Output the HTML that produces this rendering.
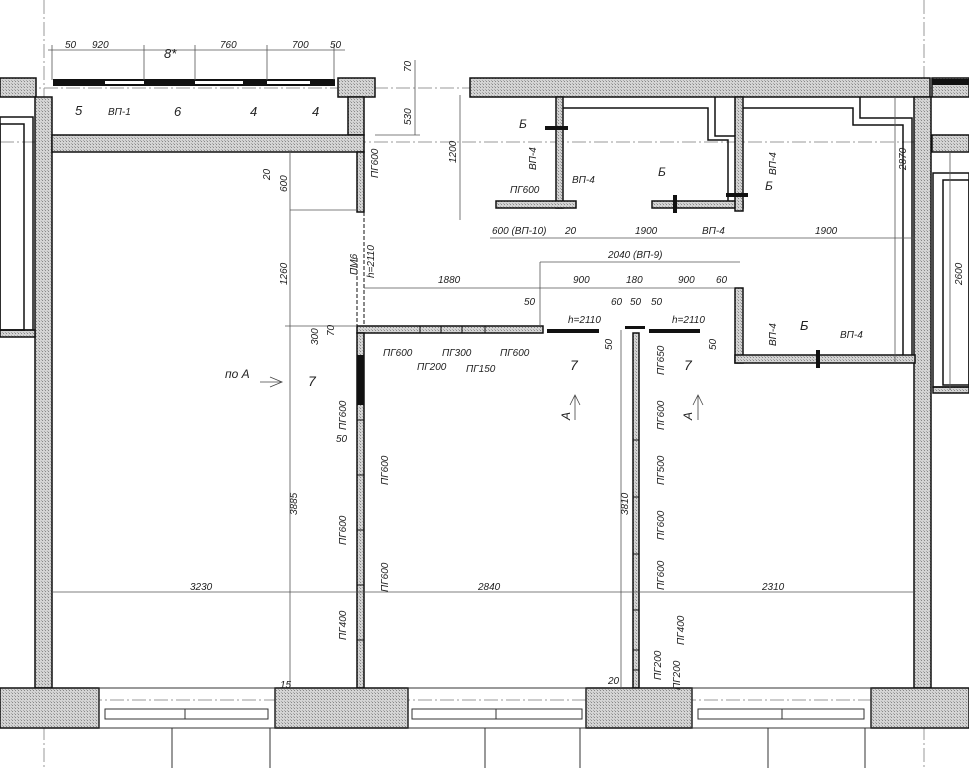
<!DOCTYPE html>
<html><head><meta charset="utf-8"><style>
html,body{margin:0;padding:0;background:#fff;}
svg{display:block;}
text{font-family:"Liberation Sans",sans-serif;font-style:italic;font-size:10px;fill:#222;}
</style></head><body>
<svg width="969" height="768" viewBox="0 0 969 768" xmlns="http://www.w3.org/2000/svg">
<defs>
<pattern id="h" width="3" height="3" patternUnits="userSpaceOnUse">
<rect width="3" height="3" fill="#d4d4d4"/><rect width="1" height="1" fill="#888"/><rect x="2" y="2" width="1" height="1" fill="#aaa"/>
</pattern>
</defs>
<!-- axis lines -->
<g stroke="#999" stroke-width="1" stroke-dasharray="14,3,2,3" fill="none">
<line x1="0" y1="88" x2="969" y2="88"/>
<line x1="0" y1="142" x2="969" y2="142"/>
<line x1="44" y1="0" x2="44" y2="768"/>
<line x1="924" y1="0" x2="924" y2="768"/>
<line x1="0" y1="700" x2="969" y2="700"/>
</g>
<!-- walls hatched -->
<g fill="url(#h)" stroke="#111" stroke-width="1.5">
<rect x="0" y="78" width="36" height="19"/>
<rect x="35" y="97" width="17" height="591"/>
<rect x="338" y="78" width="37" height="19"/>
<rect x="348" y="97" width="16" height="38"/>
<rect x="52" y="135" width="312" height="17"/>
<rect x="470" y="78" width="460" height="19"/>
<rect x="914" y="97" width="17" height="591"/>
<rect x="932" y="78" width="37" height="19"/>
<rect x="932" y="135" width="37" height="17"/>
<rect x="0" y="330" width="35" height="7"/>
<rect x="933" y="387" width="36" height="6"/>
<!-- inner partitions -->
<rect x="556" y="97" width="7" height="111"/>
<rect x="496" y="201" width="80" height="7"/>
<rect x="652" y="201" width="91" height="7"/>
<rect x="735" y="97" width="8" height="114"/>
<rect x="735" y="288" width="8" height="75"/>
<rect x="735" y="355" width="180" height="8"/>
<rect x="357" y="326" width="186" height="7"/>
<rect x="357" y="152" width="7" height="60"/>
<rect x="357" y="333" width="7" height="355"/>
<rect x="633" y="333" width="6" height="355"/>
<!-- bottom pillars -->
<rect x="0" y="688" width="99" height="40"/>
<rect x="275" y="688" width="133" height="40"/>
<rect x="586" y="688" width="106" height="40"/>
<rect x="871" y="688" width="98" height="40"/>
</g>
<!-- partition joints -->
<g stroke="#111" stroke-width="1">
<line x1="357" y1="258" x2="357" y2="326" stroke-dasharray="4,2"/>
<line x1="364" y1="212" x2="364" y2="326" stroke-dasharray="4,2"/>
<line x1="420" y1="326" x2="420" y2="333"/><line x1="441" y1="326" x2="441" y2="333"/><line x1="462" y1="326" x2="462" y2="333"/><line x1="485" y1="326" x2="485" y2="333"/>
<line x1="357" y1="420" x2="364" y2="420"/><line x1="357" y1="475" x2="364" y2="475"/><line x1="357" y1="530" x2="364" y2="530"/><line x1="357" y1="585" x2="364" y2="585"/><line x1="357" y1="640" x2="364" y2="640"/>
<line x1="633" y1="440" x2="639" y2="440"/><line x1="633" y1="497" x2="639" y2="497"/><line x1="633" y1="554" x2="639" y2="554"/><line x1="633" y1="610" x2="639" y2="610"/><line x1="633" y1="650" x2="639" y2="650"/><line x1="633" y1="670" x2="639" y2="670"/>
</g>
<!-- black fills -->
<g fill="#111">
<rect x="53" y="79" width="282" height="7"/>
<rect x="357" y="355" width="7" height="50"/>
<rect x="547" y="329" width="52" height="4"/>
<rect x="649" y="329" width="51" height="4"/>
<rect x="625" y="326" width="20" height="3"/>
<rect x="545" y="126" width="23" height="4"/>
<rect x="726" y="193" width="22" height="4"/>
<rect x="673" y="195" width="4" height="18"/>
<rect x="816" y="350" width="4" height="18"/>
<rect x="932" y="79" width="37" height="6"/>
</g>
<g fill="#fff">
<rect x="105" y="81" width="39" height="3"/><rect x="195" y="81" width="48" height="3"/><rect x="267" y="81" width="43" height="3"/>
</g>
<!-- thin lines -->
<g stroke="#111" stroke-width="1.5" fill="none">
<polyline points="563,108 708,108 708,140 728,140 728,201"/>
<polyline points="715,97 715,136 735,136"/>
<polyline points="743,108 853,108 853,125 903,125 903,355"/>
<polyline points="860,97 860,118 912,118 912,355"/>
<rect x="0" y="117" width="33" height="213"/>
<rect x="0" y="124" width="24" height="206"/>
<rect x="933" y="173" width="36" height="214"/>
<rect x="943" y="180" width="26" height="205"/>
</g>
<!-- bottom windows -->
<g stroke="#333" stroke-width="1" fill="none">
<rect x="99" y="688" width="176" height="40"/><rect x="408" y="688" width="178" height="40"/><rect x="692" y="688" width="179" height="40"/>
<rect x="105" y="709" width="163" height="10"/><rect x="412" y="709" width="170" height="10"/><rect x="698" y="709" width="166" height="10"/>
<line x1="185" y1="709" x2="185" y2="719"/><line x1="496" y1="709" x2="496" y2="719"/><line x1="782" y1="709" x2="782" y2="719"/>
<line x1="172" y1="728" x2="172" y2="768"/><line x1="270" y1="728" x2="270" y2="768"/><line x1="485" y1="728" x2="485" y2="768"/><line x1="580" y1="728" x2="580" y2="768"/><line x1="768" y1="728" x2="768" y2="768"/><line x1="865" y1="728" x2="865" y2="768"/>
</g>
<!-- dimension lines -->
<g stroke="#555" stroke-width="0.8" fill="none">
<line x1="48" y1="50" x2="345" y2="50"/>
<line x1="52" y1="45" x2="52" y2="80"/><line x1="144" y1="45" x2="144" y2="80"/><line x1="195" y1="45" x2="195" y2="80"/><line x1="267" y1="45" x2="267" y2="80"/><line x1="334" y1="45" x2="334" y2="80"/>
<line x1="415" y1="60" x2="415" y2="135"/><line x1="375" y1="135" x2="420" y2="135"/>
<line x1="460" y1="95" x2="460" y2="220"/>
<line x1="290" y1="150" x2="290" y2="688"/><line x1="290" y1="210" x2="357" y2="210"/><line x1="285" y1="326" x2="357" y2="326"/>
<line x1="364" y1="288" x2="735" y2="288"/><line x1="540" y1="262" x2="740" y2="262"/><line x1="540" y1="262" x2="540" y2="326"/>
<line x1="490" y1="238" x2="915" y2="238"/>
<line x1="52" y1="592" x2="914" y2="592"/>
<line x1="621" y1="330" x2="621" y2="688"/>
<line x1="895" y1="97" x2="895" y2="363"/>
<line x1="950" y1="152" x2="950" y2="390"/>
</g>
<!-- arrows -->
<g stroke="#444" stroke-width="0.8" fill="none">
<line x1="260" y1="382" x2="282" y2="382"/><polyline points="270,377 282,382 270,387"/>
<line x1="575" y1="420" x2="575" y2="395"/><polyline points="570,405 575,395 580,405"/>
<line x1="698" y1="420" x2="698" y2="395"/><polyline points="693,405 698,395 703,405"/>
</g>
<!-- labels -->
<text x="65" y="48">50</text><text x="92" y="48">920</text><text x="164" y="58" style="font-size:13px">8*</text><text x="220" y="48">760</text><text x="292" y="48">700</text><text x="330" y="48">50</text>
<text x="75" y="115" style="font-size:13px">5</text><text x="108" y="115">ВП-1</text><text x="174" y="116" style="font-size:13px">6</text><text x="250" y="116" style="font-size:13px">4</text><text x="312" y="116" style="font-size:13px">4</text>
<text x="519" y="128" style="font-size:12px">Б</text><text x="658" y="176" style="font-size:12px">Б</text><text x="765" y="190" style="font-size:12px">Б</text><text x="800" y="330" style="font-size:13px">Б</text>
<text x="510" y="193">ПГ600</text><text x="572" y="183">ВП-4</text><text x="492" y="234">600 (ВП-10)</text><text x="565" y="234">20</text><text x="635" y="234">1900</text><text x="702" y="234">ВП-4</text><text x="815" y="234">1900</text>
<text x="608" y="258">2040 (ВП-9)</text><text x="573" y="283">900</text><text x="626" y="283">180</text><text x="678" y="283">900</text><text x="716" y="283">60</text>
<text x="524" y="305">50</text><text x="611" y="305">60</text><text x="630" y="305">50</text><text x="651" y="305">50</text>
<text x="568" y="323">h=2110</text><text x="672" y="323">h=2110</text>
<text x="570" y="370" style="font-size:14px">7</text><text x="684" y="370" style="font-size:14px">7</text><text x="308" y="386" style="font-size:14px">7</text>
<text x="225" y="378" style="font-size:12px">по А</text>
<text x="840" y="338">ВП-4</text>
<text x="438" y="283">1880</text>
<text x="383" y="356">ПГ600</text><text x="417" y="370">ПГ200</text><text x="442" y="356">ПГ300</text><text x="466" y="372">ПГ150</text><text x="500" y="356">ПГ600</text>
<text x="336" y="442">50</text>
<text x="190" y="590">3230</text><text x="478" y="590">2840</text><text x="762" y="590">2310</text>
<text x="280" y="688">15</text><text x="608" y="684">20</text>
<g transform="rotate(-90)">
<text x="-125" y="411">530</text><text x="-72" y="411">70</text><text x="-163" y="456">1200</text>
<text x="-192" y="287">600</text><text x="-180" y="270">20</text><text x="-285" y="287">1260</text><text x="-515" y="297">3885</text>
<text x="-345" y="318">300</text><text x="-336" y="334">70</text>
<text x="-178" y="378">ПГ600</text><text x="-275" y="357">ПМ6</text><text x="-278" y="374">h=2110</text>
<text x="-430" y="346">ПГ600</text><text x="-485" y="388">ПГ600</text><text x="-545" y="346">ПГ600</text><text x="-592" y="388">ПГ600</text><text x="-640" y="346">ПГ400</text>
<text x="-375" y="664">ПГ650</text><text x="-430" y="664">ПГ600</text><text x="-485" y="664">ПГ500</text><text x="-540" y="664">ПГ600</text><text x="-590" y="664">ПГ600</text><text x="-645" y="684">ПГ400</text>
<text x="-680" y="661">ПГ200</text><text x="-690" y="680">ПГ200</text>
<text x="-515" y="628">3810</text>
<text x="-170" y="536">ВП-4</text><text x="-175" y="776">ВП-4</text><text x="-346" y="776">ВП-4</text>
<text x="-170" y="906">2870</text><text x="-285" y="962">2600</text>
<text x="-350" y="612">50</text><text x="-350" y="716">50</text>
<text x="-420" y="570" style="font-size:12px">А</text><text x="-420" y="692" style="font-size:12px">А</text>
</g>
</svg>
</body></html>
